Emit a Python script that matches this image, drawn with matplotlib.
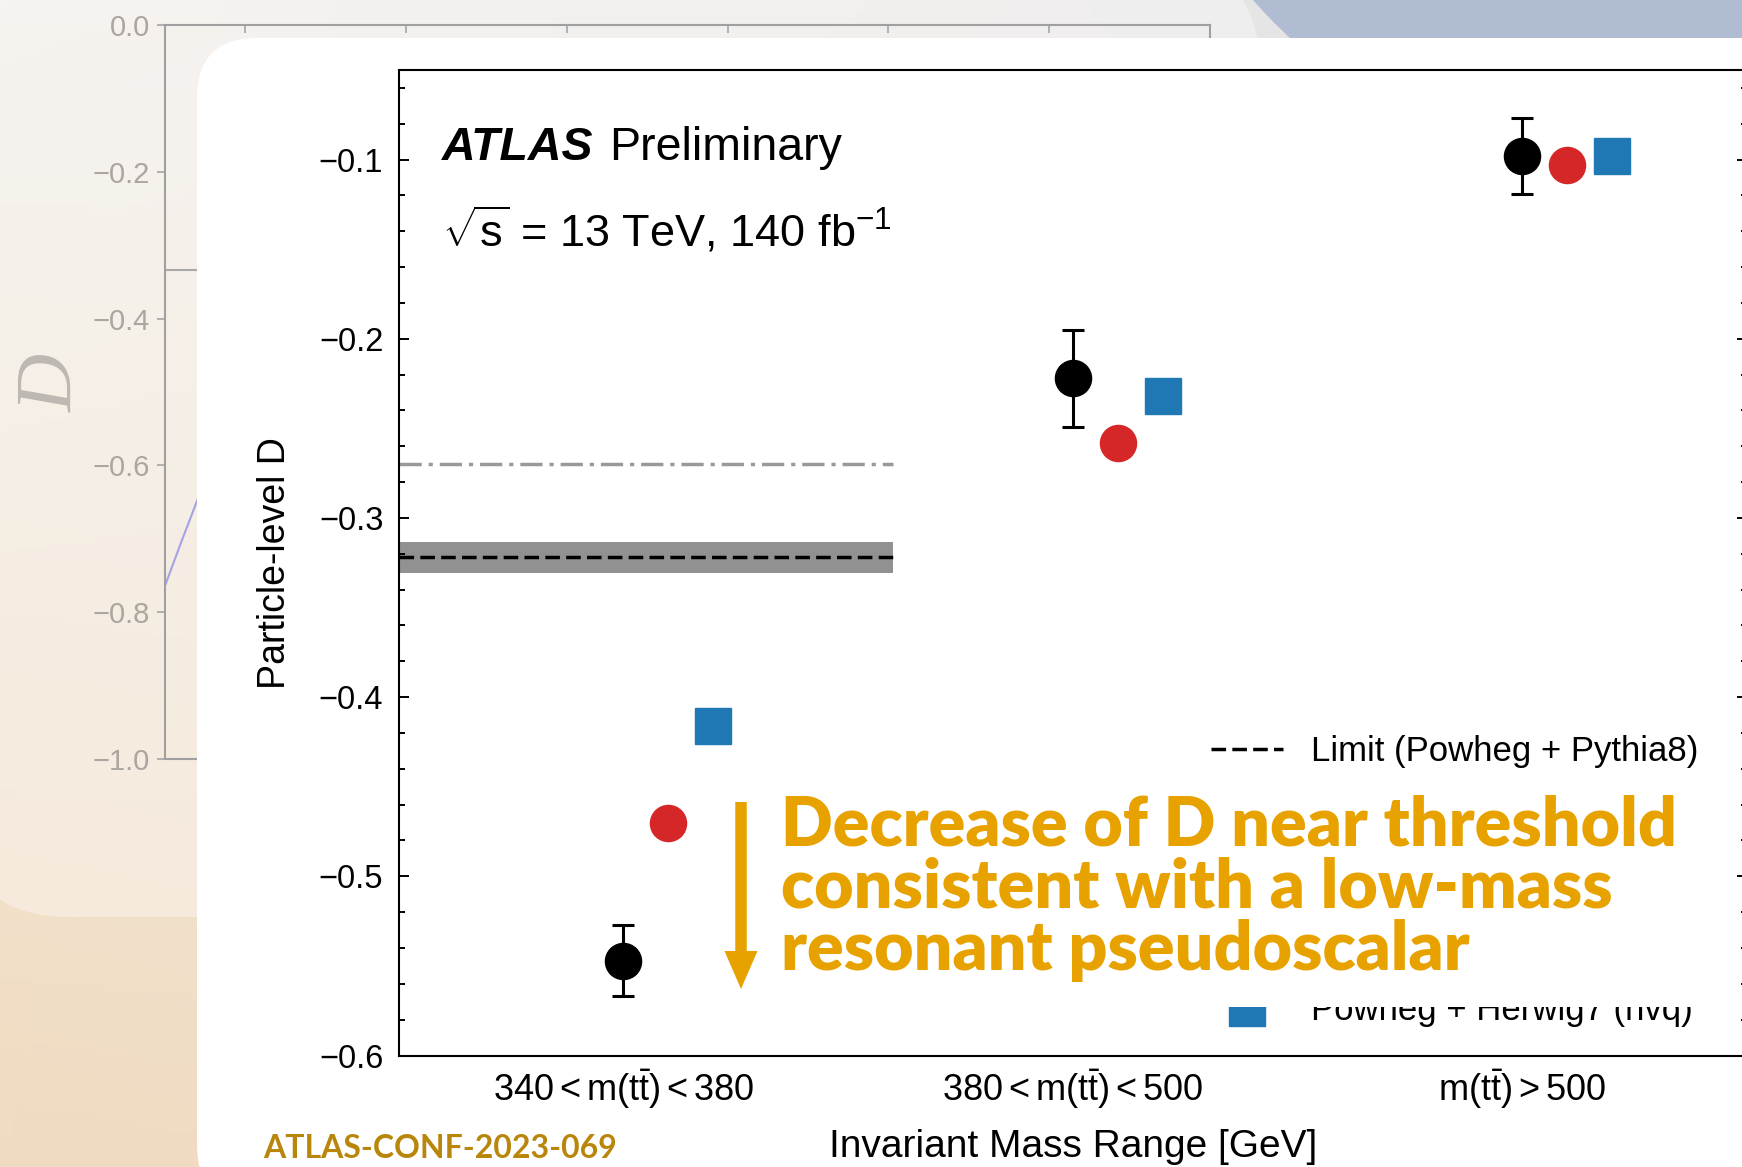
import numpy as np
import matplotlib
matplotlib.use('Agg')
import matplotlib.pyplot as plt
from matplotlib.patches import FancyBboxPatch, Rectangle, Circle, FancyArrow
from matplotlib.lines import Line2D
from matplotlib.ticker import MultipleLocator

plt.rcParams['font.family'] = ['Liberation Sans', 'DejaVu Sans']
plt.rcParams['mathtext.fontset'] = 'custom'
plt.rcParams['mathtext.rm'] = 'Liberation Sans'
plt.rcParams['mathtext.it'] = 'Liberation Sans:italic'
plt.rcParams['mathtext.bf'] = 'Liberation Sans:bold'

# --- data of the ATLAS plot ---
categories = [r'$340<\mathrm{m(t\bar{t})}<380$',
              r'$380<\mathrm{m(t\bar{t})}<500$',
              r'$\mathrm{m(t\bar{t})}>500$']
data_D = [-0.547, -0.222, -0.098]
data_err = [0.020, 0.027, 0.021]
pythia_D = [-0.470, -0.258, -0.103]
herwig_D = [-0.416, -0.232, -0.098]
limit_D = -0.322
limit_unc = 0.0085
limit_alt_D = -0.270
limit_span = [-0.5, 0.6]
legend_labels = ['Limit (Powheg + Pythia8)', 'Powheg + Herwig7 (hvq)']

# --- faded plot of the slide behind ---
bg_x = [0.0, 0.1, 0.2, 0.3]
bg_D = [-0.764, -0.705, -0.648, -0.600]
bg_ref = -1 / 3
bg_yticks = [0.0, -0.2, -0.4, -0.6, -0.8, -1.0]
bg_xticks = [0.5, 1.5, 2.5, 3.5, 4.5, 5.5]

W, H = 1742, 1167
fig = plt.figure(figsize=(W / 100, H / 100), dpi=100)


def pixel_axes(z):
    a = fig.add_axes([0, 0, 1, 1], zorder=z)
    a.set_xlim(0, W)
    a.set_ylim(H, 0)
    a.set_axis_off()
    return a


# slide background
back = pixel_axes(0)
yy, xx = np.mgrid[0:1:200j, 0:1:300j]
tl = np.array([242, 238, 232]) / 255
tr = np.array([226, 226, 229]) / 255
bl = np.array([241, 219, 192]) / 255
br = np.array([236, 224, 210]) / 255
img = (tl * ((1 - xx) * (1 - yy))[..., None] + tr * (xx * (1 - yy))[..., None]
       + bl * ((1 - xx) * yy)[..., None] + br * (xx * yy)[..., None])
back.imshow(img, extent=[0, W, H, 0], aspect='auto')
back.add_patch(FancyBboxPatch((-40, -40), 1300, 957,
                              boxstyle='round,pad=0,rounding_size=110',
                              fc='white', ec='none', alpha=0.35))
back.add_patch(Circle((1700, -400), 600, fc='#AFBCD1', ec='none'))
back.set_xlim(0, W)
back.set_ylim(H, 0)

# old plot
bgax = fig.add_axes([165 / W, 1 - 759 / H, 1045 / W, 734 / H], zorder=1)
bgax.patch.set_visible(False)
bgax.plot(bg_x, bg_D, color='#A3A3E6', lw=1.5)
bgax.axhline(bg_ref, color='#A8A8A8', lw=1.5)
bgax.set_xlim(0, 6.5)
bgax.set_ylim(-1.0, 0.0)
bgax.set_yticks(bg_yticks)
bgax.set_xticks(bg_xticks)
bgax.tick_params(axis='y', direction='out', length=6, width=1.2, color='#A5A5A5',
                 labelsize=21, labelcolor='#ABA6A0', pad=5)
bgax.tick_params(axis='x', direction='in', length=6, width=1.2, color='#A5A5A5',
                 top=True, bottom=False, labelbottom=False)
for s in bgax.spines.values():
    s.set_color('#A0A0A0')
    s.set_linewidth(1.5)
bgax.set_ylabel('D', fontsize=58, family='Liberation Serif', style='italic',
                color='#BDB8B1')
bgax.yaxis.set_label_coords(-0.072, 0.512)

# white card
card = pixel_axes(2)
card.add_patch(FancyBboxPatch((197, 38), W, H, boxstyle='round,pad=0,rounding_size=60',
                              fc='white', ec='none'))

# ATLAS plot
ax = fig.add_axes([398.6 / W, 1 - 1055.5 / H, 1348.3 / W, 985.5 / H], zorder=3)
x = np.arange(len(categories))
ax.fill_between(limit_span, limit_D - limit_unc, limit_D + limit_unc,
                color='#919191', lw=0, zorder=1)
ax.plot(limit_span, [limit_D] * 2, color='black', lw=2.5, dashes=(4.2, 1.8), zorder=2)
ax.plot(limit_span, [limit_alt_D] * 2, color='#999999', lw=2.5,
        dashes=(6.4, 2, 1.2, 2), zorder=2)
ax.errorbar(x, data_D, yerr=data_err, fmt='o', color='black', ms=26,
            elinewidth=2.2, capsize=8, capthick=2.2, zorder=4)
ax.plot(x + 0.1, pythia_D, 'o', color='#D62728', ms=26, zorder=4)
ax.plot(x + 0.2, herwig_D, 's', color='#1F77B4', ms=26, zorder=4)

ax.set_xlim(-0.5, 2.5)
ax.set_ylim(-0.6, -0.05)
ax.set_xticks(x)
ax.set_xticklabels(categories)
ax.yaxis.set_major_locator(MultipleLocator(0.1))
ax.yaxis.set_minor_locator(MultipleLocator(0.02))
ax.tick_params(axis='y', which='both', direction='in', left=True, right=True,
               labelsize=23.5, pad=11, width=1.4)
ax.tick_params(axis='y', which='major', length=7)
ax.tick_params(axis='y', which='minor', length=4.5)
ax.tick_params(axis='x', length=0, labelsize=26, pad=8)
for s in ax.spines.values():
    s.set_linewidth(1.5)
ax.set_ylabel('Particle-level D', fontsize=27)
ax.yaxis.set_label_coords(-0.078, 0.5)
ax.set_xlabel('Invariant Mass Range [GeV]', fontsize=28, va='top')
ax.xaxis.set_label_coords(0.5, -0.0745)

ax.text(0.0322, 0.9087, 'ATLAS', transform=ax.transAxes, fontsize=33.5,
        fontweight='bold', style='italic', va='baseline')
ax.text(0.1560, 0.9087, 'Preliminary', transform=ax.transAxes, fontsize=33.5,
        va='baseline')
ax.text(0.0322, 0.8204, r'$\sqrt{\mathrm{s}}$ = 13 TeV, 140 fb$^{\mathrm{-1}}$',
        transform=ax.transAxes, fontsize=32.5, va='baseline')

handles = [Line2D([], [], color='black', lw=2.5, dashes=(4.2, 1.8)),
           Line2D([], [], color='#1F77B4', marker='s', ms=26, ls='none')]
ax.legend(handles, legend_labels, loc='upper left', bbox_to_anchor=(0.6025, 0.3252),
          frameon=False, fontsize=25, handlelength=2.07, handletextpad=0.8,
          labelspacing=6.5, borderpad=0, borderaxespad=0)

# annotation laid over the plot
over = pixel_axes(4)
over.add_patch(Rectangle((722, 778), 1011, 229, fc='white', ec='none'))
over.add_patch(FancyArrow(741, 802, 0, 187, width=11.5, head_width=33, head_length=38,
                          length_includes_head=True, fc='#E8A200', ec='none'))
over.text(781, 795, 'Decrease of D near threshold\nconsistent with a low-mass\n'
          'resonant pseudoscalar', va='top', ha='left', fontsize=49,
          family='Lato', fontweight='heavy', color='#E8A200', linespacing=0.98)
over.text(263, 1149, 'ATLAS-CONF-2023-069', va='center', ha='left', fontsize=23,
          family='Lato', fontweight='bold', color='#B8860B')

fig.savefig('out.png', dpi=100)
